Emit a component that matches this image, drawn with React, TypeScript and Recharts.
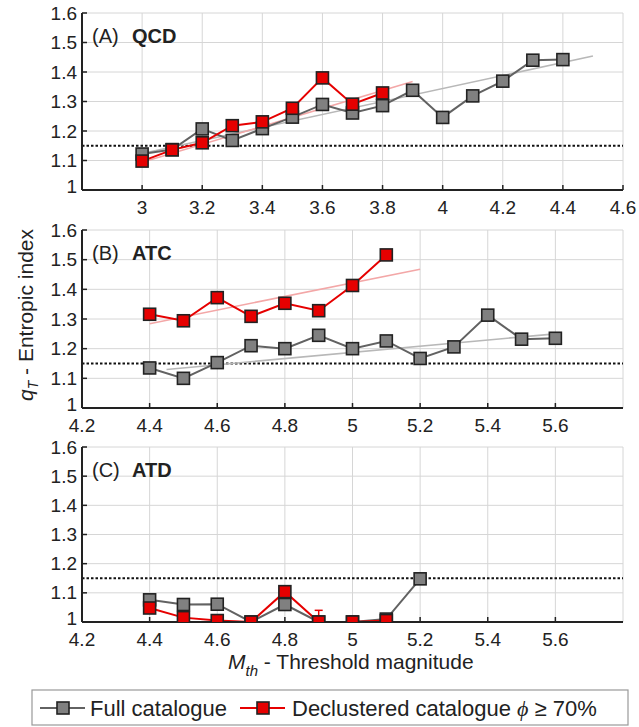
import React from 'react';
import { LineChart, Line, XAxis, YAxis, CartesianGrid, ReferenceLine, ErrorBar } from 'recharts';

// magnitudes (threshold) per panel
const magA = [3, 3.1, 3.2, 3.3, 3.4, 3.5, 3.6, 3.7, 3.8, 3.9, 4, 4.1, 4.2, 4.3, 4.4];
const fullA = [1.122, 1.137, 1.207, 1.168, 1.208, 1.247, 1.29, 1.261, 1.286, 1.338, 1.246, 1.319, 1.369, 1.44, 1.442];
const declA = [1.098, 1.136, 1.16, 1.218, 1.231, 1.277, 1.38, 1.291, 1.329];
const trendFullA = [[3, 1.124], [4.5, 1.454]];
const trendDeclA = [[3, 1.094], [3.9, 1.368]];

const magB = [4.4, 4.5, 4.6, 4.7, 4.8, 4.9, 5, 5.1, 5.2, 5.3, 5.4, 5.5, 5.6];
const fullB = [1.135, 1.1, 1.153, 1.21, 1.2, 1.245, 1.2, 1.226, 1.167, 1.206, 1.313, 1.232, 1.235];
const declB = [1.316, 1.294, 1.372, 1.309, 1.353, 1.328, 1.413, 1.516];
const errDeclB = [0, 0.018, 0, 0, 0, 0, 0, 0];
const trendFullB = [[4.45, 1.13], [5.6, 1.25]];
const trendDeclB = [[4.4, 1.284], [5.2, 1.468]];

const magC = [4.4, 4.5, 4.6, 4.7, 4.8, 4.9, 5, 5.1, 5.2];
const fullC = [1.076, 1.06, 1.061, 1.0, 1.06, 1.0, 1.0, 1.01, 1.148];
const declC = [1.048, 1.015, 1.005, 1.0, 1.104, 1.0, 1.0, 1.005];
const errDeclC = [0, 0, 0, 0, 0, 0.04, 0.02, 0];

const ticksA = [3, 3.2, 3.4, 3.6, 3.8, 4, 4.2, 4.4, 4.6];
const ticksBC = [4.2, 4.4, 4.6, 4.8, 5, 5.2, 5.4, 5.6];
const yTicks = [1, 1.1, 1.2, 1.3, 1.4, 1.5, 1.6];
const threshold = 1.15;

const FONT = '"Liberation Sans", Arial, sans-serif';
const GRAY = '#808080';
const RED = '#e60000';

const pts = (mags: number[], vals: number[], errs?: number[]) =>
  vals.map((q, i) => ({ m: mags[i], q, err: errs ? [0, errs[i]] : [0, 0] }));
const seg = (t: number[][]) => t.map(([m, q]) => ({ m, q }));

const square = (fill: string) => (props: any) => {
  const { cx, cy, index } = props;
  if (cx == null || cy == null) return <g key={index} />;
  return (
    <rect key={index} x={cx - 6} y={cy - 6} width={12} height={12} fill={fill} stroke="#222" strokeWidth={1.6} />
  );
};

// y tick: the bottom "1" sits a little above the axis so it clears the x labels
const YTick = (props: any) => {
  const { x, y, payload } = props;
  const shift = payload.value === 1 ? -4 : 0;
  return (
    <text x={x} y={y + shift} dy="0.35em" textAnchor="end" fill="#222" fontSize={19} fontFamily={FONT}>
      {String(payload.value)}
    </text>
  );
};

interface PanelProps {
  top: number;
  height: number;
  domain: [number, number];
  ticks: number[];
  full: any[];
  decl: any[];
  trendFull?: any[];
  trendDecl?: any[];
  withErr?: boolean;
}

const tickStyle = { fill: '#222', fontSize: 19, fontFamily: FONT };

const Panel = ({ top, height, domain, ticks, full, decl, trendFull, trendDecl, withErr }: PanelProps) => (
  <div style={{ position: 'absolute', left: 0, top }}>
    <LineChart width={639} height={height} margin={{ top: 13, right: 16, bottom: 0, left: 0 }}>
      <CartesianGrid stroke="#d6d6d6" strokeWidth={1} />
      <XAxis
        dataKey="m"
        type="number"
        domain={domain}
        ticks={ticks}
        allowDataOverflow
        height={30}
        tickSize={-5}
        tickMargin={16}
        tick={tickStyle}
        tickFormatter={(v: number) => String(v)}
        axisLine={{ stroke: '#222', strokeWidth: 2 }}
        tickLine={{ stroke: '#222', strokeWidth: 1.5 }}
      />
      <XAxis
        xAxisId="top"
        orientation="top"
        dataKey="m"
        type="number"
        domain={domain}
        ticks={ticks}
        height={0}
        tickSize={-5}
        tick={false}
        axisLine={{ stroke: '#222', strokeWidth: 2 }}
        tickLine={{ stroke: '#222', strokeWidth: 1.5 }}
      />
      <YAxis
        type="number"
        domain={[1, 1.6]}
        ticks={yTicks}
        allowDataOverflow
        width={82}
        tickSize={-5}
        tickMargin={10}
        tick={<YTick />}
        axisLine={{ stroke: '#222', strokeWidth: 2 }}
        tickLine={{ stroke: '#222', strokeWidth: 1.5 }}
      />
      <YAxis
        yAxisId="right"
        orientation="right"
        type="number"
        domain={[1, 1.6]}
        ticks={yTicks}
        width={0}
        tickSize={-5}
        tick={false}
        axisLine={{ stroke: '#222', strokeWidth: 2 }}
        tickLine={{ stroke: '#222', strokeWidth: 1.5 }}
      />
      <ReferenceLine y={threshold} stroke="#111" strokeWidth={2} strokeDasharray="2.5 2" />
      {trendFull && (
        <Line data={trendFull} dataKey="q" stroke="#b8b8b8" strokeWidth={1.6} dot={false} isAnimationActive={false} />
      )}
      {trendDecl && (
        <Line data={trendDecl} dataKey="q" stroke="#f3a7a7" strokeWidth={1.6} dot={false} isAnimationActive={false} />
      )}
      <Line data={full} dataKey="q" stroke="#626262" strokeWidth={2} dot={square(GRAY)} isAnimationActive={false} />
      <Line data={decl} dataKey="q" stroke={RED} strokeWidth={2} dot={square(RED)} isAnimationActive={false}>
        {withErr && <ErrorBar dataKey="err" direction="y" width={4} stroke={RED} strokeWidth={1.5} />}
      </Line>
    </LineChart>
  </div>
);

export default function App() {
  return (
    <div style={{ position: 'absolute', left: 0, top: 0, width: 639, height: 727, background: '#fff', overflow: 'hidden' }}>
      <Panel top={0} height={220} domain={[2.8, 4.6]} ticks={ticksA}
        full={pts(magA, fullA)} decl={pts(magA, declA)} trendFull={seg(trendFullA)} trendDecl={seg(trendDeclA)} />
      <Panel top={217} height={221} domain={[4.2, 5.8]} ticks={ticksBC}
        full={pts(magB, fullB)} decl={pts(magB, declB, errDeclB)} trendFull={seg(trendFullB)} trendDecl={seg(trendDeclB)} withErr />
      <Panel top={434} height={218} domain={[4.2, 5.8]} ticks={ticksBC}
        full={pts(magC, fullC)} decl={pts(magC, declC, errDeclC)} withErr />
      <svg width={639} height={727} style={{ position: 'absolute', left: 0, top: 0, pointerEvents: 'none' }} fontFamily={FONT} fill="#222">
        <text x={92} y={43} fontSize={20}>(A)<tspan x={132} fontWeight="bold">QCD</tspan></text>
        <text x={92} y={260} fontSize={20}>(B)<tspan x={132} fontWeight="bold">ATC</tspan></text>
        <text x={92} y={477} fontSize={20}>(C)<tspan x={132} fontWeight="bold">ATD</tspan></text>
        <text transform="translate(33,315) rotate(-90)" textAnchor="middle" fontSize={21}>
          <tspan fontStyle="italic">q</tspan>
          <tspan fontStyle="italic" fontSize={14} dy={5}>T</tspan>
          <tspan dy={-5}> - Entropic index</tspan>
        </text>
        <text x={228} y={669} fontSize={21}>
          <tspan fontStyle="italic">M</tspan>
          <tspan fontStyle="italic" fontSize={15} dy={7}>th</tspan>
          <tspan dy={-7}> - Threshold magnitude</tspan>
        </text>
        <rect x={32} y={690} width={596} height={35} fill="none" stroke="#999" strokeWidth={1.2} />
        <line x1={40} x2={85} y1={708} y2={708} stroke="#626262" strokeWidth={2} />
        <rect x={57} y={702} width={12} height={12} fill={GRAY} stroke="#222" strokeWidth={1.6} />
        <text x={90} y={716} fontSize={22}>Full catalogue</text>
        <line x1={240} x2={285} y1={708} y2={708} stroke={RED} strokeWidth={2} />
        <rect x={257} y={702} width={12} height={12} fill={RED} stroke="#222" strokeWidth={1.6} />
        <text x={292} y={716} fontSize={22}>
          Declustered catalogue <tspan fontStyle="italic" fontFamily='"Liberation Serif", serif'>ϕ</tspan> ≥ 70%
        </text>
      </svg>
    </div>
  );
}
